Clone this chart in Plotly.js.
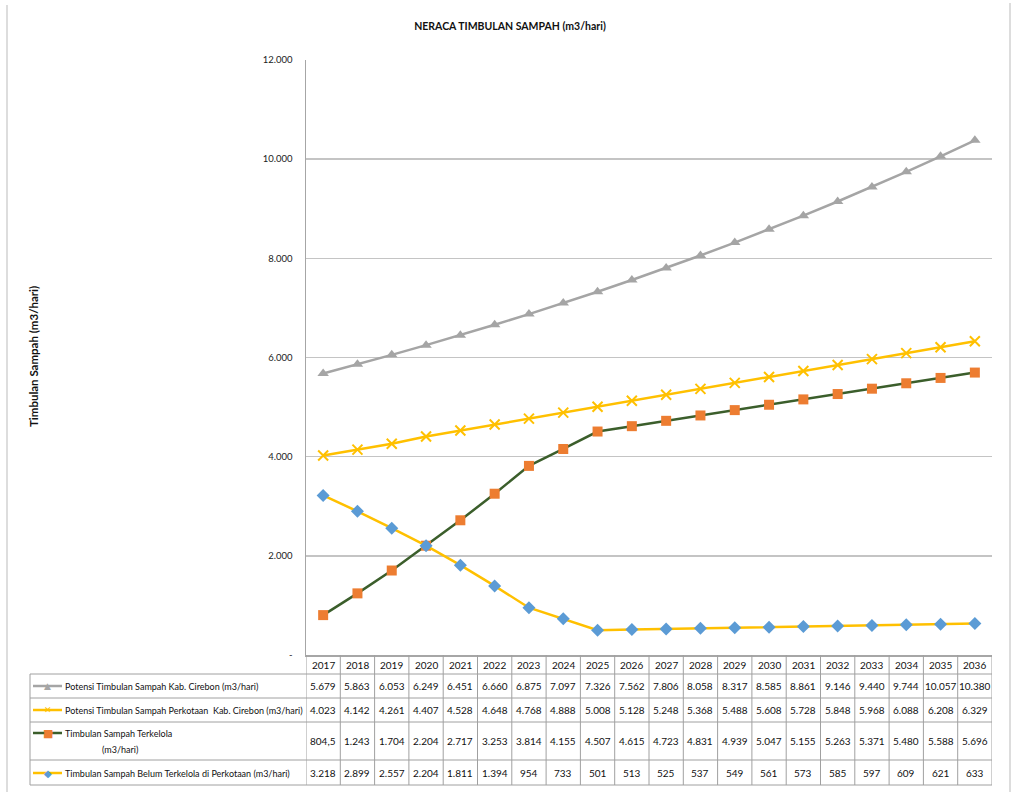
<!DOCTYPE html>
<html>
<head>
<meta charset="utf-8">
<script src="https://cdn.plot.ly/plotly-3.0.1.min.js"></script>
<style>html,body{margin:0;padding:0;background:#fff;}#chart{width:1012px;height:792px;}</style>
</head>
<body>
<div id="chart"></div>
<script>
// ---- data ----
const years = ["2017","2018","2019","2020","2021","2022","2023","2024","2025","2026","2027","2028","2029","2030","2031","2032","2033","2034","2035","2036"];
const potensiKab = [5679,5863,6053,6249,6451,6660,6875,7097,7326,7562,7806,8058,8317,8585,8861,9146,9440,9744,10057,10380];
const potensiKota = [4023,4142,4261,4407,4528,4648,4768,4888,5008,5128,5248,5368,5488,5608,5728,5848,5968,6088,6208,6329];
const terkelola = [804.5,1243,1704,2204,2717,3253,3814,4155,4507,4615,4723,4831,4939,5047,5155,5263,5371,5480,5588,5696];
const belumTerkelola = [3218,2899,2557,2204,1811,1394,954,733,501,513,525,537,549,561,573,585,597,609,621,633];
const seriesNames = [
  "Potensi Timbulan Sampah Kab. Cirebon (m3/hari)",
  "Potensi Timbulan Sampah Perkotaan  Kab. Cirebon (m3/hari)",
  "Timbulan Sampah Terkelola",
  "Timbulan Sampah Belum Terkelola di Perkotaan (m3/hari)"
];
const yTickVals = [0,2000,4000,6000,8000,10000,12000];
const yTickText = ["-","2.000","4.000","6.000","8.000","10.000","12.000"];

// ---- helpers ----
const W = 1012, H = 792;
const L = 306, R = 992, T = 60, B = 655;
const px2x = p => (p - L) / (R - L);
const py2y = p => (B - p) / (B - T);
function fmt(v){
  const neg = v < 0; v = Math.abs(v);
  let ip = Math.floor(v), dp = Math.round((v - ip) * 10);
  let s = String(ip).replace(/\B(?=(\d{3})+(?!\d))/g, ".");
  if (dp) s += "," + dp;
  return (neg ? "-" : "") + s;
}
const FONT = "Lato, 'DejaVu Sans Condensed', sans-serif";
const gray = "#A5A5A5", yellow = "#FFC000", green = "#3B5E2B", orange = "#ED7D31", blue = "#5B9BD5";

const traces = [
  {x: years, y: potensiKab, name: seriesNames[0], mode: "lines+markers",
   line: {color: gray, width: 2.5}, marker: {symbol: "triangle-up", size: 10, color: gray}},
  {x: years, y: potensiKota, name: seriesNames[1], mode: "lines+markers",
   line: {color: yellow, width: 2.5}, marker: {symbol: "x-thin", size: 10, line: {color: yellow, width: 2}}},
  {x: years, y: terkelola, name: seriesNames[2], mode: "lines+markers",
   line: {color: green, width: 2.5}, marker: {symbol: "square", size: 10, color: orange}},
  {x: years, y: belumTerkelola, name: seriesNames[3], mode: "lines+markers",
   line: {color: yellow, width: 2.5}, marker: {symbol: "diamond", size: 10, color: blue}}
];

// ---- table (below the plot) ----
const shapes = [];
const annotations = [];
const lineCol = "#A0A0A0";
const tableBottom = 785;
for (let i = 0; i <= years.length; i++) {
  shapes.push({type: "line", xref: "x", yref: "paper", x0: i - 0.5, x1: i - 0.5,
    y0: py2y(B), y1: py2y(tableBottom), line: {color: lineCol, width: 1}});
}
shapes.push({type: "line", xref: "paper", yref: "paper", x0: px2x(30), x1: px2x(30),
  y0: py2y(674), y1: py2y(tableBottom), line: {color: lineCol, width: 1}});
[674, 698, 722, 760, tableBottom].forEach(py => {
  shapes.push({type: "line", xref: "paper", yref: "paper", x0: px2x(30), x1: 1,
    y0: py2y(py), y1: py2y(py), line: {color: lineCol, width: 1}});
});
shapes.push({type: "line", xref: "paper", yref: "paper", x0: px2x(7), x1: px2x(7),
  y0: py2y(5), y1: py2y(792), line: {color: "#DDDDDD", width: 2}});
shapes.push({type: "line", xref: "paper", yref: "paper", x0: px2x(1010), x1: px2x(1010),
  y0: py2y(3), y1: py2y(792), line: {color: "#DDDDDD", width: 2}});

const tf = {family: FONT, size: 10, color: "#111"};
const lf = {family: FONT, size: 9, color: "#111"};
function cell(xv, xref, py, text, extra) {
  return Object.assign({xref: xref, yref: "paper", x: xv, y: py2y(py), text: text, showarrow: false,
    xanchor: "center", yanchor: "middle", font: tf}, extra || {});
}
years.forEach((yr, i) => annotations.push(cell(i, "x", 665, yr)));
const rowCenters = [686, 710, 741, 773];
const rowData = [potensiKab, potensiKota, terkelola, belumTerkelola];
rowData.forEach((arr, r) => {
  arr.forEach((v, i) => annotations.push(cell(i, "x", rowCenters[r], fmt(v))));
});
const legendStyles = [
  {lc: gray, mc: gray, glyph: "▲", gs: 9},
  {lc: yellow, mc: yellow, glyph: "✕", gs: 9},
  {lc: green, mc: orange, glyph: "■", gs: 11},
  {lc: yellow, mc: blue, glyph: "◆", gs: 10}
];
legendStyles.forEach((st, r) => {
  const cy = r === 2 ? 733 : rowCenters[r];
  shapes.push({type: "line", xref: "paper", yref: "paper", x0: px2x(33), x1: px2x(62),
    y0: py2y(cy), y1: py2y(cy), line: {color: st.lc, width: 2.5}});
  annotations.push(cell(px2x(47.5), "paper", cy, st.glyph,
    {font: {family: "DejaVu Sans", size: st.gs, color: st.mc}}));
  annotations.push(cell(px2x(63), "paper", cy, seriesNames[r], {xanchor: "left", font: lf}));
});
annotations.push(cell(px2x(100), "paper", 750, "(m3/hari)", {xanchor: "left", font: lf}));

annotations.push(cell(px2x(33), "paper", 357, "<b>Timbulan Sampah (m3/hari)</b>",
  {textangle: -90, font: {family: FONT, size: 11.5, color: "#111"}}));

const layout = {
  width: W, height: H,
  margin: {l: L, r: W - R, t: T, b: H - B, pad: 0},
  paper_bgcolor: "#fff", plot_bgcolor: "#fff",
  showlegend: false,
  title: {text: "<b>NERACA TIMBULAN SAMPAH (m3/hari)</b>", xref: "container", x: 510 / W, xanchor: "center",
    y: 1 - 26 / H, yanchor: "middle", font: {family: FONT, size: 10.5, color: "#111"}},
  xaxis: {type: "category", categoryorder: "array", categoryarray: years, range: [-0.5, years.length - 0.5],
    showticklabels: false, showgrid: false, zeroline: false, ticks: "",
    showline: true, linecolor: "#A6A6A6", linewidth: 1.5},
  yaxis: {range: [0, 12000], tickvals: yTickVals, ticktext: yTickText, showgrid: true,
    gridcolor: "#C4C4C4", gridwidth: 1.5, zeroline: false, showline: true, linecolor: "#A6A6A6", linewidth: 1.5,
    ticks: "", ticklabelstandoff: 10, tickfont: {family: FONT, size: 9.5, color: "#222"}},
  shapes: shapes,
  annotations: annotations,
  font: {family: FONT}
};

Plotly.newPlot("chart", traces, layout, {displayModeBar: false, staticPlot: true});
</script>
</body>
</html>
